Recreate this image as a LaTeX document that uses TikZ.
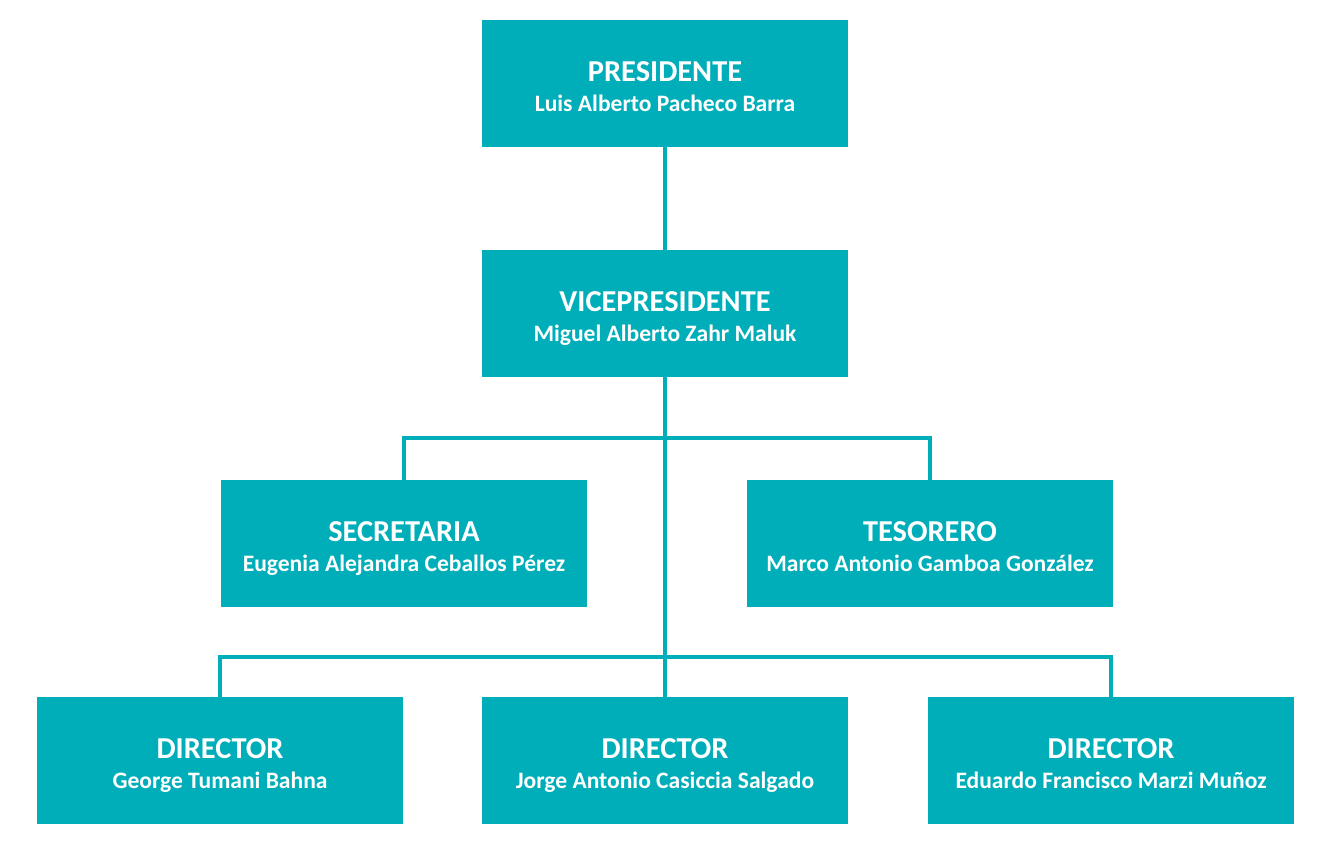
\documentclass[tikz,border=0pt]{standalone}
\usepackage{fontspec}
\setmainfont{Carlito}
\definecolor{teal}{RGB}{0,174,185}
\tikzset{
	cargo/.style={fill=teal, draw=none, minimum width=7.32cm, minimum height=2.54cm,
		align=center, text=white, font=\bfseries\fontsize{13.4}{17}\selectfont, inner sep=0pt},
	linea/.style={draw=teal, line width=2.8pt},
}
\newcommand{\puesto}[2]{{\fontsize{17.3}{17}\selectfont\raisebox{2.3pt}{\vphantom{ÁÉ}}#1}\\\vphantom{gy}#2}

\begin{document}
\begin{tikzpicture}[x=0.02cm, y=-0.02cm]
			%%%%% START %%%%%
			\useasboundingbox[fill=white] (0, 0) rectangle (1324, 865);
			
			\node[cargo] (pres) at (665, 83.5) {\puesto{PRESIDENTE}{Luis Alberto Pacheco Barra}};
			\node[cargo] (vice) at (665, 313.5) {\puesto{VICEPRESIDENTE}{Miguel Alberto Zahr Maluk}};
			
			\node[cargo] (secr) at (404, 543.5) {\puesto{SECRETARIA}{Eugenia Alejandra Ceballos Pérez}};
			\node[cargo] (teso) at (930, 543.5) {\puesto{TESORERO}{Marco Antonio Gamboa González}};
			
			\node[cargo] (dir1) at (220, 760.5) {\puesto{DIRECTOR}{George Tumani Bahna}};
			\node[cargo] (dir2) at (665, 760.5) {\puesto{DIRECTOR}{Jorge Antonio Casiccia Salgado}};
			\node[cargo] (dir3) at (1111, 760.5) {\puesto{DIRECTOR}{Eduardo Francisco Marzi Muñoz}};
			
			\coordinate (r1) at (665, 438);
			\coordinate (r2) at (665, 657);
			
			\draw[linea] (pres.south) -- (vice.north);
			\draw[linea] (vice.south) -- (dir2.north);
			\draw[linea] (secr.north) |- (r1) -| (teso.north);
			\draw[linea] (dir1.north) |- (r2) -| (dir3.north);
			%%%%% END %%%%%
		\end{tikzpicture}
\end{document}
